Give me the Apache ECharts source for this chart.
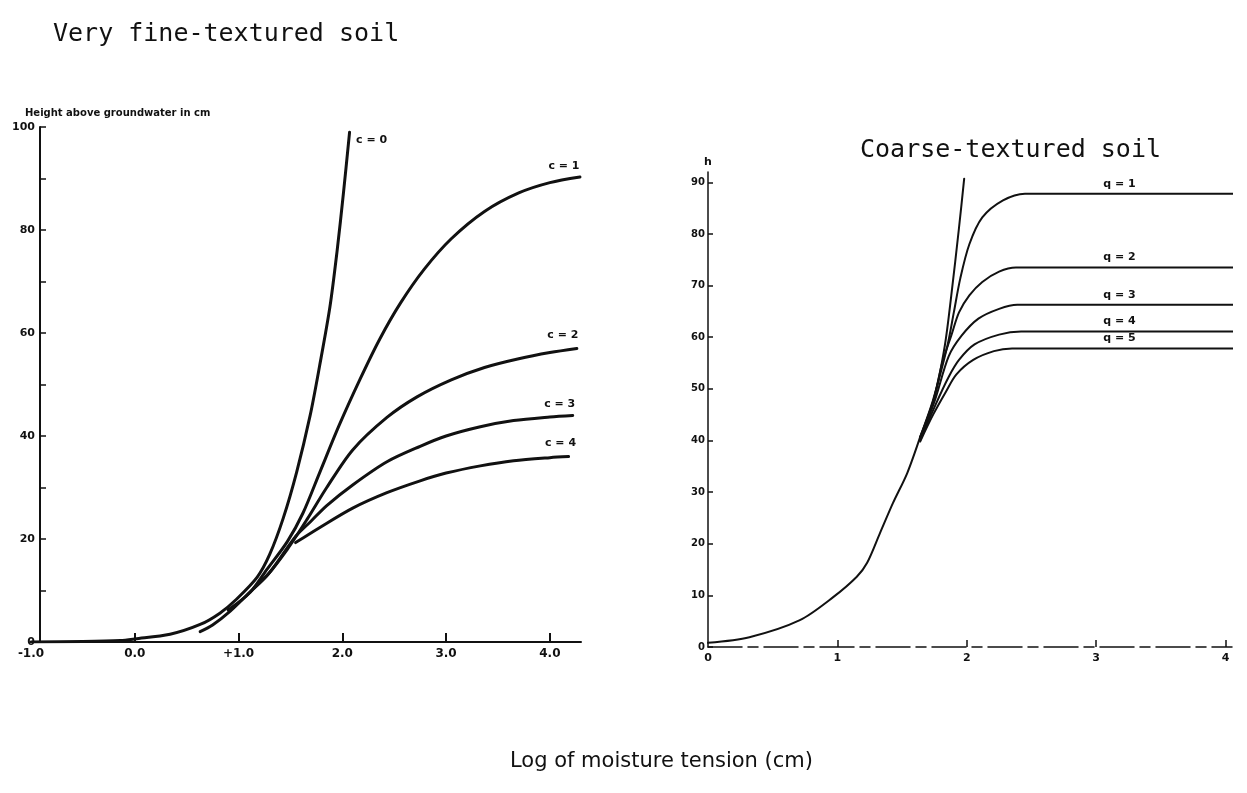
<!DOCTYPE html>
<html>
<head>
<meta charset="utf-8">
<title>Height above groundwater vs log of moisture tension</title>
<script src="https://cdn.jsdelivr.net/npm/echarts@6/dist/echarts.min.js"></script>
<style>
  html, body { margin: 0; padding: 0; background: #fff; }
  #chart { width: 1247px; height: 793px; }
</style>
</head>
<body>
<div id="chart"></div>
<script>
// ---- Very fine-textured soil: height (cm) against log moisture tension, per c ----
const fineXTickValues = [-1, 0, 1, 2, 3, 4];
const fineXTickLabels = ['-1.0', '0.0', '+1.0', '2.0', '3.0', '4.0'];
const fineYTickValues = [0, 10, 20, 30, 40, 50, 60, 70, 80, 90, 100];
const fineYLabelValues = [0, 20, 40, 60, 80, 100];

const fineC0X = [-1, -0.5, -0.14, 0, 0.34, 0.63, 0.82, 0.98, 1.18, 1.30, 1.43, 1.56, 1.69, 1.78, 1.88, 1.95, 2.01, 2.07];
const fineC0Y = [0, 0.1, 0.3, 0.6, 1.5, 3.4, 5.6, 8.3, 12.6, 17.0, 24.0, 33.0, 44.0, 53.5, 65.0, 76.0, 87.0, 99.0];

const fineC1X = [0.90, 1.11, 1.27, 1.47, 1.62, 1.78, 1.97, 2.17, 2.36, 2.56, 2.79, 3.05, 3.37, 3.70, 4.00, 4.29];
const fineC1Y = [6.2, 9.6, 14.0, 19.5, 25.0, 32.8, 42.1, 51.0, 58.8, 65.8, 72.4, 78.3, 83.6, 87.2, 89.2, 90.3];

const fineC2X = [1.15, 1.27, 1.47, 1.66, 1.85, 2.10, 2.43, 2.72, 3.05, 3.37, 3.70, 4.00, 4.26];
const fineC2Y = [10.5, 12.8, 18.0, 23.8, 30.0, 37.3, 43.6, 47.6, 50.9, 53.3, 55.0, 56.2, 57.0];

const fineC3X = [0.63, 0.75, 0.92, 1.10, 1.30, 1.55, 1.70, 1.85, 2.10, 2.43, 2.75, 3.00, 3.33, 3.65, 4.00, 4.22];
const fineC3Y = [2.0, 3.3, 6.0, 9.5, 13.5, 20.5, 23.5, 26.5, 30.5, 35.0, 38.0, 40.0, 41.8, 43.0, 43.7, 44.0];

const fineC4X = [1.55, 1.78, 2.10, 2.43, 2.75, 3.00, 3.33, 3.65, 4.00, 4.18];
const fineC4Y = [19.3, 22.2, 26.0, 29.0, 31.3, 32.8, 34.2, 35.2, 35.8, 36.0];

const fineNames = ['c = 0', 'c = 1', 'c = 2', 'c = 3', 'c = 4'];

// ---- Coarse-textured soil: height h against log moisture tension, per q ----
const coarseXTickValues = [0, 1, 2, 3, 4];
const coarseXTickLabels = ['0', '1', '2', '3', '4'];
const coarseYTickValues = [0, 10, 20, 30, 40, 50, 60, 70, 80, 90];

// shared lower branch of all coarse curves
const coarseBaseX = [0, 0.32, 0.71, 0.97, 1.15, 1.23, 1.33, 1.43, 1.54, 1.64];
const coarseBaseY = [0.8, 1.9, 5.2, 9.7, 13.6, 16.3, 22.1, 27.9, 33.7, 40.7];

const coarseQ0X = [1.64, 1.75, 1.83, 1.88, 1.94, 1.98];
const coarseQ0Y = [40.7, 48.4, 58.3, 68.0, 81.2, 90.7];

const coarseQ1X = [1.64, 1.74, 1.85, 1.90, 1.95, 2.02, 2.12, 2.28, 2.45, 4.06];
const coarseQ1Y = [40.7, 47.9, 58.3, 64.8, 71.4, 78.0, 83.2, 86.5, 87.8, 87.8];

const coarseQ2X = [1.64, 1.74, 1.81, 1.88, 1.94, 2.02, 2.12, 2.25, 2.38, 4.06];
const coarseQ2Y = [40.5, 47.5, 55.0, 60.3, 64.8, 68.1, 70.7, 72.7, 73.5, 73.5];

const coarseQ3X = [1.64, 1.75, 1.86, 1.96, 2.09, 2.25, 2.39, 4.06];
const coarseQ3Y = [40.3, 47.5, 56.3, 60.3, 63.6, 65.5, 66.3, 66.3];

const coarseQ4X = [1.64, 1.76, 1.86, 1.94, 2.06, 2.25, 2.42, 4.06];
const coarseQ4Y = [40.0, 47.0, 52.3, 55.6, 58.6, 60.5, 61.1, 61.1];

const coarseQ5X = [1.64, 1.74, 1.84, 1.92, 2.05, 2.21, 2.35, 4.06];
const coarseQ5Y = [39.8, 45.0, 49.5, 52.8, 55.6, 57.3, 57.8, 57.8];

const coarseNames = ['q = 1', 'q = 2', 'q = 3', 'q = 4', 'q = 5'];

// ---------------------------------------------------------------------------
const INK = '#111';
const SMALL_FONT = { color: INK, fontFamily: 'DejaVu Sans', fontWeight: 'bold', fontSize: 11 };

const pairs = (xs, ys) => xs.map((x, i) => [x, ys[i]]);

function curve(gridIdx, xs, ys, width, label) {
  const s = {
    type: 'line',
    xAxisIndex: gridIdx,
    yAxisIndex: gridIdx,
    data: pairs(xs, ys),
    showSymbol: false,
    smooth: 0.3,
    lineStyle: { color: INK, width: width, cap: 'round', join: 'round' },
    silent: true
  };
  if (label) {
    s.markPoint = {
      symbol: 'circle',
      symbolSize: 0,
      silent: true,
      data: [{
        coord: label.coord,
        label: {
          show: true,
          position: 'inside',
          offset: label.offset,
          formatter: label.text,
          ...SMALL_FONT
        }
      }]
    };
  }
  return s;
}

const last = (xs, ys) => [xs[xs.length - 1], ys[ys.length - 1]];
const COARSE_LABEL_X = 3.18;

const fineSeries = [
  curve(0, fineC0X, fineC0Y, 3, { coord: last(fineC0X, fineC0Y), offset: [22, 8], text: fineNames[0] }),
  curve(0, fineC1X, fineC1Y, 3, { coord: last(fineC1X, fineC1Y), offset: [-16, -11], text: fineNames[1] }),
  curve(0, fineC2X, fineC2Y, 3, { coord: last(fineC2X, fineC2Y), offset: [-14, -13], text: fineNames[2] }),
  curve(0, fineC3X, fineC3Y, 3, { coord: last(fineC3X, fineC3Y), offset: [-13, -11], text: fineNames[3] }),
  curve(0, fineC4X, fineC4Y, 3, { coord: last(fineC4X, fineC4Y), offset: [-8, -13], text: fineNames[4] })
];

const coarseLabel = (ys, text) => ({ coord: [COARSE_LABEL_X, ys[ys.length - 1]], offset: [0, -10], text });

const coarseSeries = [
  curve(1, coarseBaseX, coarseBaseY, 2),
  curve(1, coarseQ0X, coarseQ0Y, 2),
  curve(1, coarseQ1X, coarseQ1Y, 2, coarseLabel(coarseQ1Y, coarseNames[0])),
  curve(1, coarseQ2X, coarseQ2Y, 2, coarseLabel(coarseQ2Y, coarseNames[1])),
  curve(1, coarseQ3X, coarseQ3Y, 2, coarseLabel(coarseQ3Y, coarseNames[2])),
  curve(1, coarseQ4X, coarseQ4Y, 2, coarseLabel(coarseQ4Y, coarseNames[3])),
  curve(1, coarseQ5X, coarseQ5Y, 2, coarseLabel(coarseQ5Y, coarseNames[4]))
];

const chart = echarts.init(document.getElementById('chart'), null, { renderer: 'canvas' });

chart.setOption({
  animation: false,
  backgroundColor: '#fff',
  title: [
    { text: 'Very fine-textured soil', left: 48, top: 17,
      textStyle: { fontFamily: 'DejaVu Sans Mono', fontWeight: 'normal', fontSize: 25, color: INK } },
    { text: 'Coarse-textured soil', left: 855, top: 133,
      textStyle: { fontFamily: 'DejaVu Sans Mono', fontWeight: 'normal', fontSize: 25, color: INK } },
    { text: 'Log of moisture tension (cm)', left: 505, top: 746,
      textStyle: { fontFamily: 'DejaVu Sans', fontWeight: 'normal', fontSize: 21, color: INK } },
    { text: 'Height above groundwater in cm', left: 20, top: 103,
      textStyle: { ...SMALL_FONT, fontSize: 10 } }
  ],
  grid: [
    { left: 31, top: 127, width: 550, height: 515 },
    { left: 708, top: 172, width: 524, height: 475 }
  ],
  xAxis: [
    {
      gridIndex: 0, type: 'value', min: -1, max: 4.3,
      splitLine: { show: false },
      axisLine: { onZero: false, lineStyle: { color: INK, width: 2 } },
      axisTick: { show: true, inside: true, length: 9, customValues: fineXTickValues.slice(1), lineStyle: { color: INK, width: 2 } },
      axisLabel: {
        customValues: fineXTickValues, margin: 6, ...SMALL_FONT, fontSize: 12,
        formatter: v => fineXTickLabels[fineXTickValues.indexOf(v)]
      }
    },
    {
      gridIndex: 1, type: 'value', min: 0, max: 4.05,
      splitLine: { show: false },
      axisLine: { onZero: false, lineStyle: { color: INK, width: 1.5, type: [34, 6, 10, 6] } },
      axisTick: { show: true, inside: true, length: 7, customValues: coarseXTickValues.slice(1), lineStyle: { color: INK, width: 1.5 } },
      axisLabel: {
        customValues: coarseXTickValues, margin: 6, ...SMALL_FONT,
        formatter: v => coarseXTickLabels[coarseXTickValues.indexOf(v)]
      }
    }
  ],
  yAxis: [
    {
      gridIndex: 0, type: 'value', min: 0, max: 100, offset: -9,
      splitLine: { show: false },
      axisLine: { onZero: false, lineStyle: { color: INK, width: 2 } },
      axisTick: { show: true, inside: true, length: 6, customValues: fineYTickValues, lineStyle: { color: INK, width: 1.5 } },
      axisLabel: { customValues: fineYLabelValues, margin: 5, ...SMALL_FONT }
    },
    {
      gridIndex: 1, type: 'value', min: 0, max: 92,
      name: 'h', nameLocation: 'end', nameGap: 4,
      nameTextStyle: { ...SMALL_FONT, align: 'center' },
      splitLine: { show: false },
      axisLine: { onZero: false, lineStyle: { color: INK, width: 1.5 } },
      axisTick: { show: true, inside: true, length: 5, customValues: coarseYTickValues, lineStyle: { color: INK, width: 1.5 } },
      axisLabel: { customValues: coarseYTickValues, margin: 3, ...SMALL_FONT, fontSize: 10 }
    }
  ],
  series: [...fineSeries, ...coarseSeries]
});
</script>
</body>
</html>
